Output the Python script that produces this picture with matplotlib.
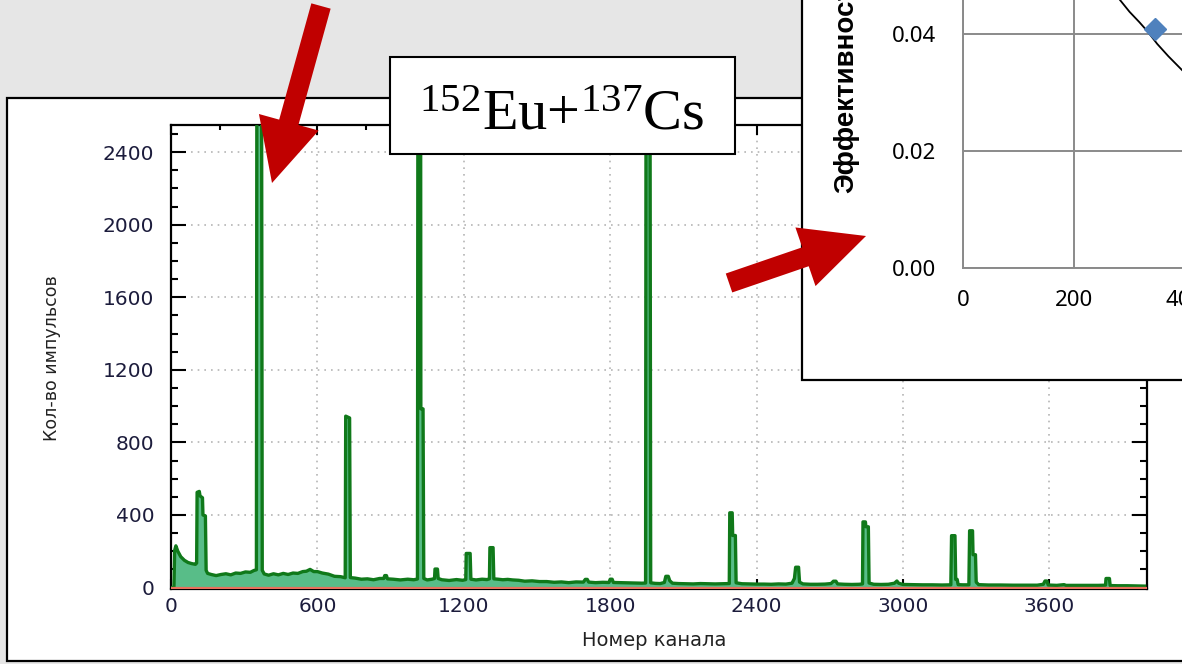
import matplotlib.pyplot as plt
from matplotlib.patches import Rectangle, FancyArrow
from matplotlib.ticker import MultipleLocator, FormatStrFormatter
from matplotlib.transforms import Affine2D

W, H = 1182, 664

plt.rcParams['font.family'] = ['DejaVu Sans']
plt.rcParams['mathtext.fontset'] = 'custom'
plt.rcParams['mathtext.rm'] = 'Liberation Serif'
plt.rcParams['mathtext.it'] = 'Liberation Serif:italic'

# спектр 152Eu+137Cs: опорные точки (канал, импульсы)
channels = [0, 12, 15, 20, 28, 40, 55, 70, 85, 100, 105,
            107, 116, 119, 129, 131, 141, 144, 150,
            165, 185, 205, 225, 245, 265, 285, 305, 325, 340, 350,
            352, 371, 374, 382,
            400, 420, 440, 460, 480, 500, 520, 540, 555, 570, 585, 600, 620, 645, 670, 695, 714,
            716, 732, 735,
            755, 780, 805, 830, 855, 872, 876, 883, 887, 910, 940, 970, 995, 1010,
            1012, 1023, 1024, 1033, 1036,
            1050, 1070, 1080, 1082, 1092, 1095, 1110, 1140, 1170, 1195, 1208,
            1210, 1226, 1229,
            1250, 1275, 1295, 1305,
            1307, 1320, 1323,
            1340, 1360, 1380, 1400, 1425, 1450, 1480, 1510, 1540, 1570, 1600, 1630, 1660, 1690,
            1698, 1706, 1712, 1740, 1770, 1795, 1800, 1808, 1813, 1840, 1870, 1900, 1930, 1945,
            1947, 1963, 1966,
            1985, 2005, 2022, 2028, 2038, 2044, 2055, 2080, 2110, 2140, 2170, 2200, 2230, 2260, 2288,
            2290, 2300, 2302, 2313, 2316,
            2340, 2370, 2400, 2430, 2460, 2490, 2520, 2545, 2555, 2560, 2572, 2576, 2590,
            2620, 2650, 2680, 2705, 2715, 2725, 2732, 2760, 2790, 2820, 2834,
            2836, 2846, 2848, 2858, 2861,
            2880, 2910, 2940, 2965, 2975, 2982, 3000, 3040, 3080, 3120, 3160, 3196,
            3199, 3213, 3216, 3222, 3226,
            3245, 3270,
            3273, 3285, 3287, 3297, 3300, 3310,
            3350, 3400, 3450, 3500, 3550, 3575, 3582, 3590, 3595, 3630, 3660, 3668, 3700, 3750,
            3800, 3830,
            3832, 3846, 3849,
            3880, 3920, 3960, 3990]
counts = [0, 0, 205, 230, 200, 170, 150, 138, 132, 128, 135,
          525, 530, 505, 495, 400, 395, 95, 78,
          72, 66, 72, 76, 70, 80, 78, 86, 84, 94, 98,
          3000, 3000, 95, 75,
          68, 76, 70, 78, 72, 80, 78, 88, 90, 100, 88, 88, 80, 74, 62, 60, 54,
          945, 935, 55,
          52, 46, 48, 43, 50, 50, 66, 66, 48, 46, 42, 46, 43, 47,
          3000, 3000, 985, 985, 50,
          42, 46, 50, 102, 102, 50, 43, 39, 44, 40, 44,
          188, 188, 46,
          42, 46, 44, 48,
          220, 220, 48,
          46, 43, 45, 42, 40, 35, 37, 33, 33, 29, 31, 27, 31, 30,
          45, 45, 30, 27, 29, 28, 46, 46, 28, 27, 26, 25, 24, 25,
          3000, 3000, 26,
          23, 22, 28, 62, 62, 38, 24, 22, 21, 20, 22, 21, 20, 21, 22,
          412, 412, 287, 287, 26,
          21, 20, 19, 19, 18, 20, 19, 24, 50, 112, 112, 30, 20,
          18, 18, 19, 22, 35, 35, 20, 18, 17, 18, 20,
          362, 362, 335, 335, 25,
          18, 17, 18, 24, 36, 24, 17, 16, 15, 15, 14, 15,
          286, 286, 45, 45, 16,
          15, 15,
          313, 313, 181, 181, 30, 16,
          14, 14, 13, 13, 13, 18, 36, 36, 14, 12, 16, 12, 12, 12,
          12, 13,
          50, 50, 11,
          10, 10, 9, 8]

# вставка: эффективность регистрации
meas_energy = [346]
meas_eff = [0.0409]
fit_energy = [265, 283, 300, 318, 332, 350, 370, 395, 420]
fit_eff = [0.0480, 0.0458, 0.0438, 0.0420, 0.0405, 0.0383, 0.0362, 0.0338, 0.0316]

fig = plt.figure(figsize=(W / 100, H / 100), dpi=100)
fig.patch.set_facecolor('#e6e6e6')
# пиксельные координаты (y вниз)
pix = Affine2D().scale(1 / W, -1 / H).translate(0, 1) + fig.transFigure


def box(x0, y0, x1, y1):
    return [x0 / W, 1 - y1 / H, (x1 - x0) / W, (y1 - y0) / H]


# окно спектра
fig.add_artist(Rectangle((7, 98), 1200, 563, transform=pix, facecolor='white',
                         edgecolor='black', lw=1.6, zorder=-2))

ax = fig.add_axes(box(171, 125, 1147, 589), zorder=1)
ax.fill_between(channels, counts, 0, color='#58bd88', lw=0, zorder=2)
ax.plot(channels, counts, color='#10791a', lw=2.4, zorder=3)
ax.axhline(0, color='#e7705c', lw=1.6, zorder=4)
ax.set_xlim(0, 4000)
ax.set_ylim(-8, 2550)
ax.xaxis.set_major_locator(MultipleLocator(600))
ax.xaxis.set_minor_locator(MultipleLocator(200))
ax.yaxis.set_major_locator(MultipleLocator(400))
ax.yaxis.set_minor_locator(MultipleLocator(100))
ax.grid(which='major', color='#b5b5b5', linestyle=(0, (1, 3)), lw=1.2)
ax.tick_params(which='both', direction='in', top=True, right=True, width=1.5,
               labelsize=14.5, labelcolor='#1c1c3c')
ax.tick_params(axis='x', which='major', length=7, pad=6)
ax.tick_params(axis='x', which='minor', length=3.5)
ax.tick_params(axis='y', which='major', length=11, pad=12)
ax.tick_params(axis='y', which='minor', length=5)
for s in ax.spines.values():
    s.set_linewidth(1.6)

fig.text(52, 358, 'Кол-во импульсов', transform=pix, rotation=90, ha='center',
         va='center', fontsize=12.5, color='#222222')
fig.text(654, 640, 'Номер канала', transform=pix, ha='center', va='center',
         fontsize=14, color='#222222')

# вставка с кривой эффективности
fig.add_artist(Rectangle((802, -10), 420, 390, transform=pix, facecolor='white',
                         edgecolor='black', lw=1.6, zorder=2))
axi = fig.add_axes(box(963, 268 - 351, 963 + 555, 268), zorder=3)
axi.patch.set_visible(False)
axi.plot(fit_energy, fit_eff, color='black', lw=1.3, zorder=3)
axi.plot(meas_energy, meas_eff, marker='D', ls='none', color='#4f81bd', ms=11, zorder=4)
axi.set_xlim(0, 1000)
axi.set_ylim(0, 0.06)
axi.xaxis.set_major_locator(MultipleLocator(200))
axi.yaxis.set_major_locator(MultipleLocator(0.02))
axi.yaxis.set_major_formatter(FormatStrFormatter('%.2f'))
axi.grid(color='#8a8a8a', lw=1.4)
for side in ['top', 'right']:
    axi.spines[side].set_visible(False)
for side in ['left', 'bottom']:
    axi.spines[side].set_color('#8a8a8a')
    axi.spines[side].set_linewidth(1.4)
axi.tick_params(length=0, labelsize=16)
axi.tick_params(axis='x', pad=16)
axi.tick_params(axis='y', pad=19)
for lab in axi.get_xticklabels() + axi.get_yticklabels():
    lab.set_family('Noto Sans')
fig.text(846, 193, 'Эффективность', transform=pix, rotation=90, ha='center', va='bottom',
         fontsize=20, fontweight='bold', family='Liberation Sans', zorder=3.5)

# подпись источника
fig.add_artist(Rectangle((390, 57), 345, 97, transform=pix, facecolor='white',
                         edgecolor='black', lw=1.5, zorder=5))
fig.text(562, 129, r'$^{152}$Eu+$^{137}$Cs', transform=pix, ha='center', va='baseline',
         fontsize=42, family='Liberation Serif', zorder=6)

# стрелки
fig.add_artist(FancyArrow(321, 6, 272 - 321, 183 - 6, width=20, head_width=62,
                          head_length=63, length_includes_head=True, fc='#c00000',
                          ec='none', transform=pix, zorder=10))
fig.add_artist(FancyArrow(729, 283, 866 - 729, 236 - 283, width=20, head_width=62,
                          head_length=64, length_includes_head=True, fc='#c00000',
                          ec='none', transform=pix, zorder=10))

fig.savefig('out.png', dpi=100, facecolor=fig.get_facecolor())
